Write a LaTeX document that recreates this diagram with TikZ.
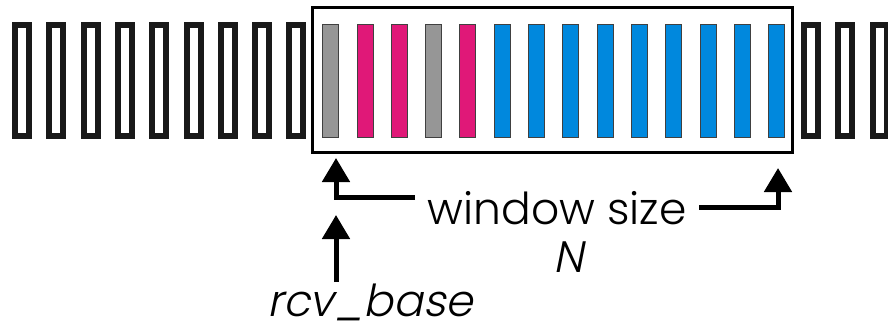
\documentclass[tikz,border=0pt]{standalone}
\usepackage{fontspec}
\setmainfont{Poppins}[UprightFont=* Light]
\newfontfamily\obliquefont{Poppins}[UprightFont=* Light, FakeSlant=0.2]
\usetikzlibrary{arrows.meta}

\definecolor{seqgray}{RGB}{150,150,150}
\definecolor{seqpink}{RGB}{224,24,120}
\definecolor{seqblue}{RGB}{0,136,221}

\tikzset{
  emptyslot/.style={draw=black!90, line width=6pt, line join=miter},
  fullslot/.style={draw=black!75, line width=0.9pt},
  winbox/.style={draw=black, line width=3pt},
  arr/.style={line width=5pt, line join=miter,
    -{Triangle[length=24pt, width=27pt]}},
  lbl/.style={font=\fontsize{44}{48}\selectfont, inner sep=0pt},
}

\begin{document}
\begin{tikzpicture}[x=1pt, y=-1pt]
  \useasboundingbox (0,0) rectangle (888,332);

  % sequence number slots outside the window
  \foreach \i in {0,...,8,23,24,25} {
    \pgfmathsetmacro{\cx}{22+34.3*\i}
    \draw[emptyslot] (\cx-7,25) rectangle (\cx+7,136);
  }

  % slots inside the receive window
  \foreach \i/\c in {9/seqgray,10/seqpink,11/seqpink,12/seqgray,13/seqpink,
                     14/seqblue,15/seqblue,16/seqblue,17/seqblue,18/seqblue,
                     19/seqblue,20/seqblue,21/seqblue,22/seqblue} {
    \pgfmathsetmacro{\cx}{22+34.3*\i}
    \filldraw[fullslot, fill=\c] (\cx-8,24) rectangle (\cx+8,137);
  }

  % receive window frame
  \draw[winbox] (312,7) rectangle (792,152);

  % labels
  \node[lbl, anchor=base] (ws) at (557,224) {window size};
  \node[lbl, anchor=base] (n) at (569,272) {\obliquefont N};
  \node[lbl, anchor=base] (rcv) at (370,316) {\obliquefont rcv\_base};

  % connector end points
  \coordinate (wsl) at (415,197);
  \coordinate (wsr) at (699,207);
  \coordinate (winstart) at (336,158);
  \coordinate (winend) at (778,168);
  \coordinate (rcvtop) at (336,282);
  \coordinate (basept) at (336,215);

  % window size arrows
  \draw[arr] (wsl) -| (winstart);
  \draw[arr] (wsr) -| (winend);

  % rcv_base pointer
  \draw[arr] (rcvtop) -- (basept);
\end{tikzpicture}
\end{document}
